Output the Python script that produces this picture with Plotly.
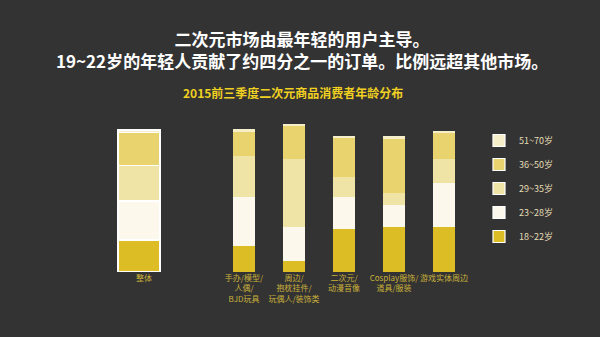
import plotly.graph_objects as go

categories = ["整体", " ", "手办/模型/<br>人偶/<br>BJD玩具", "周边/<br>抱枕挂件/<br>玩偶人/装饰类",
              "二次元/<br>动漫音像", "Cosplay服饰/<br>道具/服装", "游戏实体周边"]
age_groups = ["18~22岁", "23~28岁", "29~35岁", "36~50岁", "51~70岁"]
v_18_22 = [22.5, None, 18, 8, 30, 31.5, 31.7]
v_23_28 = [27.5, None, 34.5, 23.5, 23, 16, 31]
v_29_35 = [25, None, 29, 48, 14, 8, 17]
v_36_50 = [23, None, 17, 23, 27, 38, 18]
v_51_70 = [2, None, 2, 1.5, 2, 2, 1.5]
series = [v_18_22, v_23_28, v_29_35, v_36_50, v_51_70]
colors = ["#dcbd26", "#fdf8ec", "#efe3a6", "#e8d36f", "#f6eec8"]

widths = [0.84] + [0.44] * 6
offsets = [-0.52] + [-0.22] * 6
line_w = [1.2] + [0] * 6

fig = go.Figure()
for i, (name, vals, col) in enumerate(zip(age_groups, series, colors)):
    fig.add_trace(go.Bar(
        x=categories, y=vals, name=name, legendgroup=name, legendrank=100 - i,
        marker=dict(color=col, line=dict(color="#ffffff", width=line_w)),
        width=widths, offset=offsets,
    ))

L, R, T, B = 94, 106, 115, 65
plot_h = 337 - T - B
plot_w = 600 - L - R

def px_y(py):
    return (337 - B - py) / plot_h

fig.update_layout(
    width=600, height=337,
    barmode="stack",
    paper_bgcolor="#333333", plot_bgcolor="#333333",
    margin=dict(l=L, r=R, t=T, b=B),
    showlegend=True,
    legend=dict(
        x=(479 - L) / plot_w, y=px_y(126), yanchor="top", xanchor="left",
        traceorder="grouped", tracegroupgap=5,
        font=dict(size=9, color="#e4dcb6", family="Noto Sans CJK SC"),
        bgcolor="rgba(0,0,0,0)",
    ),
    font=dict(family="Noto Sans CJK SC"),
    annotations=[
        dict(text="<b>二次元市场由最年轻的用户主导。<br>19~22岁的年轻人贡献了约四分之一的订单。比例远超其他市场。</b>",
             x=(302 - L) / plot_w, y=px_y(49), xref="paper", yref="paper",
             showarrow=False, font=dict(size=17, color="#ffffff"), yanchor="middle"),
        dict(text="<b>2015前三季度二次元商品消费者年龄分布</b>", x=(293 - L) / plot_w, y=px_y(92),
             xref="paper", yref="paper",
             showarrow=False, font=dict(size=12, color="#f0d020"), yanchor="middle"),
    ],
)

fig.update_xaxes(range=[-1, 7], showgrid=False, zeroline=False, showline=False, tickangle=0,
                 tickfont=dict(size=8, color="#c9b13a"), ticks="", type="category")
fig.update_yaxes(range=[0, 110.5], visible=False, showgrid=False, zeroline=False)

fig.write_html("out.html")
